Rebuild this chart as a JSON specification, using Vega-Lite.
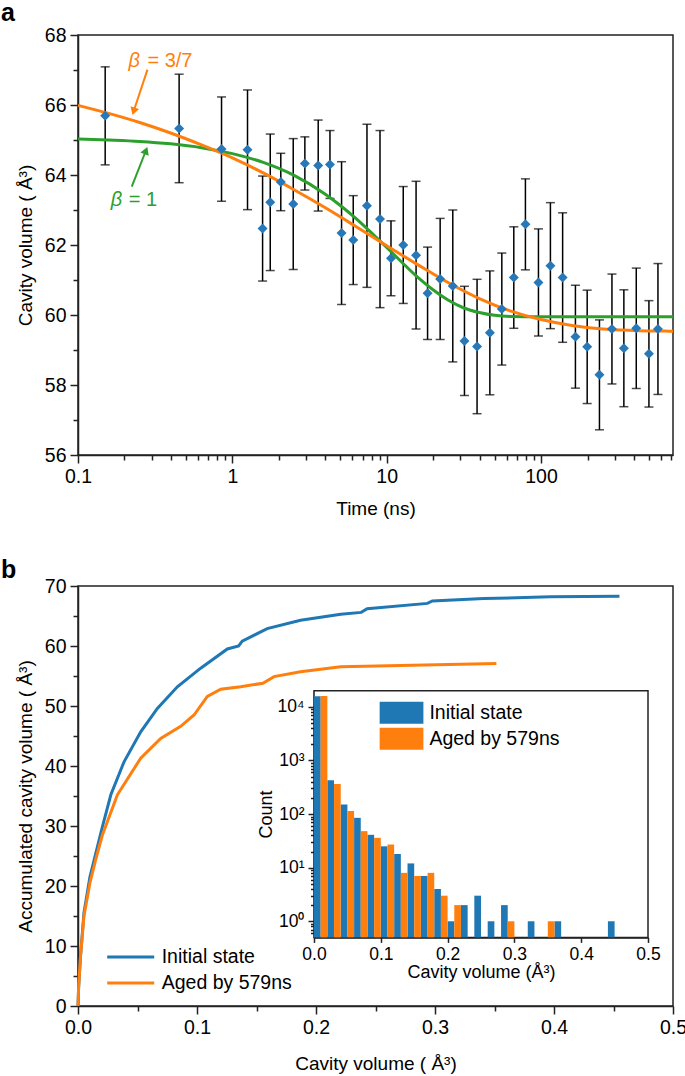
{
  "$schema": "https://vega.github.io/schema/vega-lite/v6.json",
  "padding": {"left": 0, "top": 0, "right": 0, "bottom": 0},
  "spacing": 37,
  "config": {
    "font": "Liberation Sans",
    "view": {"stroke": "#222222", "strokeWidth": 1.5},
    "axis": {"grid": false, "domainColor": "#222222", "domainWidth": 1.5, "tickColor": "#222222", "tickWidth": 1.5, "tickSize": 8, "labelFont": "Liberation Sans", "labelFontSize": 19.5, "labelColor": "black", "titleFont": "Liberation Sans", "titleFontSize": 19, "titleFontWeight": "normal", "titleColor": "black", "labelPadding": 4, "labelFlush": false, "labelOverlap": false, "zindex": 1},
    "legend": {"labelFont": "Liberation Sans", "labelFontSize": 19.5, "labelColor": "black"},
    "title": {"font": "Liberation Sans", "color": "black"}
  },
  "datasets": {
    "pointsA": [
      {"t":0.15,"v":65.69,"err":1.40},{"t":0.452,"v":65.33,"err":1.55},{"t":0.851,"v":64.74,"err":1.49},{"t":1.254,"v":64.72,"err":1.71},
      {"t":1.57,"v":62.47,"err":1.50},{"t":1.76,"v":63.22,"err":1.95},{"t":2.06,"v":63.80,"err":0.82},{"t":2.48,"v":63.17,"err":1.87},
      {"t":2.95,"v":64.33,"err":0.76},{"t":3.6,"v":64.27,"err":1.30},{"t":4.29,"v":64.30,"err":0.97},{"t":5.1,"v":62.34,"err":2.04},
      {"t":6.07,"v":62.14,"err":1.27},{"t":7.45,"v":63.12,"err":2.33},{"t":9.05,"v":62.74,"err":2.53},{"t":10.66,"v":61.62,"err":1.07},
      {"t":12.8,"v":62.00,"err":1.67},{"t":15.5,"v":61.71,"err":2.11},{"t":18.4,"v":60.62,"err":1.32},{"t":22.2,"v":61.03,"err":1.73},
      {"t":26.8,"v":60.83,"err":2.17},{"t":31.9,"v":59.26,"err":1.56},{"t":38.5,"v":59.10,"err":1.92},{"t":46.6,"v":59.49,"err":1.77},
      {"t":55.7,"v":60.17,"err":1.60},{"t":66.6,"v":61.07,"err":1.45},{"t":79.2,"v":62.59,"err":1.30},{"t":96.2,"v":60.93,"err":1.53},
      {"t":115,"v":61.41,"err":1.80},{"t":138,"v":61.07,"err":1.85},{"t":167,"v":59.38,"err":1.47},{"t":199,"v":59.09,"err":1.62},
      {"t":239,"v":58.29,"err":1.57},{"t":288,"v":59.60,"err":1.57},{"t":344,"v":59.05,"err":1.67},{"t":414,"v":59.62,"err":1.72},
      {"t":500,"v":58.89,"err":1.52},{"t":572,"v":59.60,"err":1.87}
    ],
    "curvesA": [
      {"fit":"beta1","t":0.1,"v":65.03},{"fit":"beta1","t":0.158,"v":65.00},{"fit":"beta1","t":0.251,"v":64.96},{"fit":"beta1","t":0.398,"v":64.89},
      {"fit":"beta1","t":0.631,"v":64.78},{"fit":"beta1","t":1,"v":64.61},{"fit":"beta1","t":1.585,"v":64.36},{"fit":"beta1","t":2.512,"v":63.99},
      {"fit":"beta1","t":3.981,"v":63.46},{"fit":"beta1","t":5.01,"v":63.13},{"fit":"beta1","t":6.31,"v":62.76},{"fit":"beta1","t":8,"v":62.34},
      {"fit":"beta1","t":10,"v":61.93},{"fit":"beta1","t":12.59,"v":61.50},{"fit":"beta1","t":15.85,"v":61.08},{"fit":"beta1","t":19.95,"v":60.72},
      {"fit":"beta1","t":25.12,"v":60.42},{"fit":"beta1","t":31.62,"v":60.20},{"fit":"beta1","t":39.81,"v":60.07},{"fit":"beta1","t":50.1,"v":59.99},
      {"fit":"beta1","t":63.1,"v":59.96},{"fit":"beta1","t":100,"v":59.95},{"fit":"beta1","t":716,"v":59.95},
      {"fit":"beta37","t":0.1,"v":65.99},{"fit":"beta37","t":0.158,"v":65.76},{"fit":"beta37","t":0.251,"v":65.50},{"fit":"beta37","t":0.398,"v":65.20},
      {"fit":"beta37","t":0.631,"v":64.86},{"fit":"beta37","t":1,"v":64.49},{"fit":"beta37","t":1.585,"v":64.06},{"fit":"beta37","t":2.512,"v":63.58},
      {"fit":"beta37","t":3.981,"v":63.07},{"fit":"beta37","t":6.31,"v":62.53},{"fit":"beta37","t":10,"v":61.98},{"fit":"beta37","t":15.85,"v":61.44},
      {"fit":"beta37","t":25.12,"v":60.92},{"fit":"beta37","t":39.81,"v":60.47},{"fit":"beta37","t":63.1,"v":60.12},{"fit":"beta37","t":100,"v":59.87},
      {"fit":"beta37","t":158.5,"v":59.70},{"fit":"beta37","t":251.2,"v":59.60},{"fit":"beta37","t":398.1,"v":59.56},{"fit":"beta37","t":631,"v":59.54},
      {"fit":"beta37","t":716,"v":59.535}
    ],
    "cumB": [
      {"series":"Initial state","x":0,"y":0},{"series":"Initial state","x":0.0005,"y":3},{"series":"Initial state","x":0.002,"y":8},
      {"series":"Initial state","x":0.005,"y":15.5},{"series":"Initial state","x":0.01,"y":21.5},{"series":"Initial state","x":0.015,"y":25.5},
      {"series":"Initial state","x":0.02,"y":29.5},{"series":"Initial state","x":0.0276,"y":35.2},{"series":"Initial state","x":0.0387,"y":40.7},
      {"series":"Initial state","x":0.0527,"y":45.7},{"series":"Initial state","x":0.0667,"y":49.6},{"series":"Initial state","x":0.0835,"y":53.2},
      {"series":"Initial state","x":0.1031,"y":56.3},{"series":"Initial state","x":0.1255,"y":59.5},{"series":"Initial state","x":0.135,"y":60.0},
      {"series":"Initial state","x":0.138,"y":60.8},{"series":"Initial state","x":0.159,"y":62.9},{"series":"Initial state","x":0.187,"y":64.3},
      {"series":"Initial state","x":0.2208,"y":65.3},{"series":"Initial state","x":0.238,"y":65.6},{"series":"Initial state","x":0.243,"y":66.2},
      {"series":"Initial state","x":0.2936,"y":67.1},{"series":"Initial state","x":0.2978,"y":67.5},{"series":"Initial state","x":0.341,"y":67.9},
      {"series":"Initial state","x":0.397,"y":68.2},{"series":"Initial state","x":0.455,"y":68.3},
      {"series":"Aged by 579ns","x":0,"y":0},{"series":"Aged by 579ns","x":0.0005,"y":3},{"series":"Aged by 579ns","x":0.002,"y":8},
      {"series":"Aged by 579ns","x":0.005,"y":15},{"series":"Aged by 579ns","x":0.01,"y":20.5},{"series":"Aged by 579ns","x":0.015,"y":24.5},
      {"series":"Aged by 579ns","x":0.0205,"y":28.5},{"series":"Aged by 579ns","x":0.0331,"y":35.2},{"series":"Aged by 579ns","x":0.0527,"y":41.3},
      {"series":"Aged by 579ns","x":0.0695,"y":44.6},{"series":"Aged by 579ns","x":0.0863,"y":46.6},{"series":"Aged by 579ns","x":0.0975,"y":48.5},
      {"series":"Aged by 579ns","x":0.1087,"y":51.6},{"series":"Aged by 579ns","x":0.12,"y":52.8},{"series":"Aged by 579ns","x":0.1367,"y":53.2},
      {"series":"Aged by 579ns","x":0.1554,"y":53.8},{"series":"Aged by 579ns","x":0.1647,"y":54.9},{"series":"Aged by 579ns","x":0.187,"y":55.7},
      {"series":"Aged by 579ns","x":0.2208,"y":56.55},{"series":"Aged by 579ns","x":0.3516,"y":57.1}
    ],
    "histB": [
      {"series":"Initial state","lo":0.00,"hi":0.01,"count":15800},{"series":"Initial state","lo":0.02,"hi":0.03,"count":426},
      {"series":"Initial state","lo":0.04,"hi":0.05,"count":150},{"series":"Initial state","lo":0.06,"hi":0.07,"count":85},
      {"series":"Initial state","lo":0.08,"hi":0.09,"count":41},{"series":"Initial state","lo":0.10,"hi":0.11,"count":25},
      {"series":"Initial state","lo":0.12,"hi":0.13,"count":18},{"series":"Initial state","lo":0.14,"hi":0.15,"count":12},
      {"series":"Initial state","lo":0.16,"hi":0.17,"count":7},{"series":"Initial state","lo":0.18,"hi":0.19,"count":4},
      {"series":"Initial state","lo":0.20,"hi":0.21,"count":1},{"series":"Initial state","lo":0.22,"hi":0.23,"count":2},
      {"series":"Initial state","lo":0.24,"hi":0.25,"count":3},{"series":"Initial state","lo":0.26,"hi":0.27,"count":1},
      {"series":"Initial state","lo":0.28,"hi":0.29,"count":2},{"series":"Initial state","lo":0.32,"hi":0.33,"count":1},
      {"series":"Initial state","lo":0.36,"hi":0.37,"count":1},{"series":"Initial state","lo":0.44,"hi":0.45,"count":1},
      {"series":"Aged by 579ns","lo":0.01,"hi":0.02,"count":16000},{"series":"Aged by 579ns","lo":0.03,"hi":0.04,"count":363},
      {"series":"Aged by 579ns","lo":0.05,"hi":0.06,"count":114},{"series":"Aged by 579ns","lo":0.07,"hi":0.08,"count":48},
      {"series":"Aged by 579ns","lo":0.09,"hi":0.10,"count":36},{"series":"Aged by 579ns","lo":0.11,"hi":0.12,"count":27},
      {"series":"Aged by 579ns","lo":0.13,"hi":0.14,"count":8},{"series":"Aged by 579ns","lo":0.15,"hi":0.16,"count":7},
      {"series":"Aged by 579ns","lo":0.17,"hi":0.18,"count":8},{"series":"Aged by 579ns","lo":0.19,"hi":0.20,"count":3},
      {"series":"Aged by 579ns","lo":0.21,"hi":0.22,"count":2},{"series":"Aged by 579ns","lo":0.29,"hi":0.30,"count":1},
      {"series":"Aged by 579ns","lo":0.35,"hi":0.36,"count":1}
    ]
  },
  "vconcat": [
    {
      "width": 595, "height": 420,
      "title": {"text": "a", "anchor": "start", "frame": "group", "dx": -77, "fontSize": 25, "fontWeight": "bold", "offset": -21, "baseline": "alphabetic"},
      "layer": [
        {"layer": [
          {"data": {"name": "pointsA"},
           "mark": {"type": "errorbar", "ticks": {"size": 9, "thickness": 1.5, "color": "black"}, "rule": {"strokeWidth": 1.5, "color": "black"}},
           "encoding": {
             "x": {"field": "t", "type": "quantitative", "scale": {"type": "log", "domain": [0.1, 716], "nice": false},
                   "axis": {"orient": "bottom", "values": [0.1, 1, 10, 100], "format": "~g", "title": "Time (ns)", "titlePadding": 14}},
             "y": {"field": "v", "type": "quantitative", "scale": {"domain": [56, 68], "nice": false, "zero": false},
                   "axis": {"orient": "left", "values": [56, 58, 60, 62, 64, 66, 68], "title": "Cavity volume ( Å³)", "titlePadding": 9}},
             "yError": {"field": "err"}
           }},
          {"data": {"name": "curvesA"},
           "mark": {"type": "line", "strokeWidth": 3, "interpolate": "monotone"},
           "encoding": {
             "x": {"field": "t", "type": "quantitative"},
             "y": {"field": "v", "type": "quantitative"},
             "color": {"field": "fit", "type": "nominal", "scale": {"domain": ["beta1", "beta37"], "range": ["#2ca02c", "#ff7f0e"]}, "legend": null}
           }},
          {"data": {"name": "pointsA"},
           "mark": {"type": "point", "shape": "diamond", "filled": true, "size": 100, "color": "#2878b8", "opacity": 1},
           "encoding": {"x": {"field": "t", "type": "quantitative"}, "y": {"field": "v", "type": "quantitative"}}},
          {"data": {"values": [{}]},
           "mark": {"type": "rule", "color": "#ff7f0e", "strokeWidth": 2},
           "encoding": {"x": {"datum": 0.2818, "type": "quantitative"}, "y": {"datum": 67.01, "type": "quantitative"}, "x2": {"datum": 0.2294}, "y2": {"datum": 65.82}}},
          {"data": {"values": [{}]},
           "mark": {"type": "point", "shape": "triangle-up", "filled": true, "size": 80, "angle": 197, "color": "#ff7f0e", "opacity": 1},
           "encoding": {"x": {"datum": 0.2294, "type": "quantitative"}, "y": {"datum": 65.82, "type": "quantitative"}}},
          {"data": {"values": [{}]},
           "mark": {"type": "rule", "color": "#2ca02c", "strokeWidth": 2},
           "encoding": {"x": {"datum": 0.223, "type": "quantitative"}, "y": {"datum": 63.67, "type": "quantitative"}, "x2": {"datum": 0.2756}, "y2": {"datum": 64.70}}},
          {"data": {"values": [{}]},
           "mark": {"type": "point", "shape": "triangle-up", "filled": true, "size": 80, "angle": 21, "color": "#2ca02c", "opacity": 1},
           "encoding": {"x": {"datum": 0.2756, "type": "quantitative"}, "y": {"datum": 64.70, "type": "quantitative"}}},
          {"data": {"values": [{}]},
           "mark": {"type": "text", "text": "β", "fontStyle": "italic", "fontSize": 20, "color": "#ff7f0e", "align": "left", "baseline": "alphabetic"},
           "encoding": {"x": {"datum": 0.2123, "type": "quantitative"}, "y": {"datum": 67.09, "type": "quantitative"}}},
          {"data": {"values": [{}]},
           "mark": {"type": "text", "text": "= 3/7", "fontSize": 20, "color": "#ff7f0e", "align": "left", "baseline": "alphabetic"},
           "encoding": {"x": {"datum": 0.2818, "type": "quantitative"}, "y": {"datum": 67.09, "type": "quantitative"}}},
          {"data": {"values": [{}]},
           "mark": {"type": "text", "text": "β", "fontStyle": "italic", "fontSize": 20, "color": "#2ca02c", "align": "left", "baseline": "alphabetic"},
           "encoding": {"x": {"datum": 0.163, "type": "quantitative"}, "y": {"datum": 63.12, "type": "quantitative"}}},
          {"data": {"values": [{}]},
           "mark": {"type": "text", "text": "= 1", "fontSize": 20, "color": "#2ca02c", "align": "left", "baseline": "alphabetic"},
           "encoding": {"x": {"datum": 0.213, "type": "quantitative"}, "y": {"datum": 63.12, "type": "quantitative"}}}
        ]},
        {"data": {"name": "pointsA"},
         "mark": {"type": "point", "opacity": 0},
         "encoding": {
           "x": {"field": "t", "type": "quantitative", "axis": {"orient": "bottom", "values": [0.2,0.3,0.4,0.5,0.6,0.7,0.8,0.9,2,3,4,5,6,7,8,9,20,30,40,50,60,70,80,90,200,300,400,500,600,700], "labels": false, "domain": false, "tickSize": 5, "title": null}},
           "y": {"field": "v", "type": "quantitative", "axis": {"orient": "left", "values": [57, 59, 61, 63, 65, 67], "labels": false, "domain": false, "tickSize": 5, "title": null}}
         }}
      ],
      "resolve": {"axis": {"x": "independent", "y": "independent"}}
    },
    {
      "width": 595, "height": 420,
      "title": {"text": "b", "anchor": "start", "frame": "group", "dx": -77, "fontSize": 25, "fontWeight": "bold", "offset": -27, "baseline": "alphabetic"},
      "layer": [
        {"layer": [
          {"data": {"name": "cumB"},
           "mark": {"type": "line", "strokeWidth": 3},
           "encoding": {
             "x": {"field": "x", "type": "quantitative", "scale": {"domain": [0, 0.5], "nice": false},
                   "axis": {"orient": "bottom", "values": [0, 0.1, 0.2, 0.3, 0.4, 0.5], "format": ".1f", "title": "Cavity volume ( Å³)", "titlePadding": 18}},
             "y": {"field": "y", "type": "quantitative", "scale": {"domain": [0, 70], "nice": false},
                   "axis": {"orient": "left", "values": [0, 10, 20, 30, 40, 50, 60, 70], "title": "Accumulated cavity volume ( Å³)", "titlePadding": 9}},
             "color": {"field": "series", "type": "nominal", "scale": {"domain": ["Initial state", "Aged by 579ns"], "range": ["#1f77b4", "#ff7f0e"]},
                       "legend": {"orient": "none", "legendX": 27.7, "legendY": 358, "title": null, "symbolType": "stroke", "symbolSize": 2209, "symbolStrokeWidth": 3, "labelOffset": 6, "rowPadding": 0, "clipHeight": 26}}
           }},
          {"data": {"name": "cumB"},
           "mark": {"type": "point", "opacity": 0},
           "encoding": {
             "x": {"field": "x", "type": "quantitative", "axis": {"orient": "bottom", "values": [0.05, 0.15, 0.25, 0.35, 0.45], "labels": false, "domain": false, "tickSize": 5, "title": null}},
             "y": {"field": "y", "type": "quantitative", "axis": {"orient": "left", "values": [5, 15, 25, 35, 45, 55, 65], "labels": false, "domain": false, "tickSize": 5, "title": null}}
           }}
        ], "resolve": {"axis": {"x": "independent", "y": "independent"}}},
        {"layer": [
          {"layer": [
            {"data": {"values": [{}]},
             "mark": {"type": "rect", "fill": "white", "stroke": "#222222", "strokeWidth": 1.5},
             "encoding": {"x": {"datum": 0, "type": "quantitative"}, "x2": {"datum": 0.5}, "y": {"datum": 0.5, "type": "quantitative"}, "y2": {"datum": 20000}}},
            {"data": {"name": "histB"},
             "mark": {"type": "bar"},
             "encoding": {
               "x": {"field": "lo", "type": "quantitative", "scale": {"domain": [0, 0.5], "range": [236, 570], "nice": false},
                     "axis": {"orient": "bottom", "offset": -68.6, "values": [0, 0.1, 0.2, 0.3, 0.4, 0.5], "format": ".1f", "title": "Cavity volume (Å³)", "labelFontSize": 17.5, "titleFontSize": 18, "tickSize": 5, "labelPadding": 3, "titlePadding": 1}},
               "x2": {"field": "hi"},
               "y": {"field": "count", "type": "quantitative", "scale": {"type": "log", "domain": [0.5, 20000], "range": [351.4, 104.7], "nice": false},
                     "axis": {"orient": "left", "offset": -236, "values": [1, 10, 100, 1000, 10000], "labelExpr": "datum.value == 1 ? '10⁰' : datum.value == 10 ? '10¹' : datum.value == 100 ? '10²' : datum.value == 1000 ? '10³' : '10⁴'", "title": "Count", "labelFontSize": 17.5, "titleFontSize": 18, "tickSize": 6, "labelPadding": 4, "titlePadding": 2}},
               "y2": {"datum": 0.5},
               "color": {"field": "series", "type": "nominal", "scale": {"domain": ["Initial state", "Aged by 579ns"], "range": ["#1f77b4", "#ff7f0e"]},
                         "legend": {"orient": "none", "legendX": 301.4, "legendY": 114, "title": null, "symbolType": "M-1,-0.5H1V0.5H-1Z", "symbolSize": 1936, "symbolStrokeWidth": 0, "symbolOpacity": 1, "labelOffset": 6, "rowPadding": 0, "clipHeight": 25.5}}
             }}
          ]},
          {"data": {"name": "histB"},
           "mark": {"type": "point", "opacity": 0},
           "encoding": {
             "x": {"field": "lo", "type": "quantitative", "axis": null},
             "y": {"field": "count", "type": "quantitative", "axis": {"orient": "left", "offset": -236, "values": [0.6,0.7,0.8,0.9,2,3,4,5,6,7,8,9,20,30,40,50,60,70,80,90,200,300,400,500,600,700,800,900,2000,3000,4000,5000,6000,7000,8000,9000], "labels": false, "domain": false, "tickSize": 3.5, "title": null}}
           }}
        ], "resolve": {"axis": {"x": "independent", "y": "independent"}}}
      ],
      "resolve": {"scale": {"x": "independent", "y": "independent", "color": "independent"}, "axis": {"x": "independent", "y": "independent"}, "legend": {"color": "independent"}}
    }
  ]
}
